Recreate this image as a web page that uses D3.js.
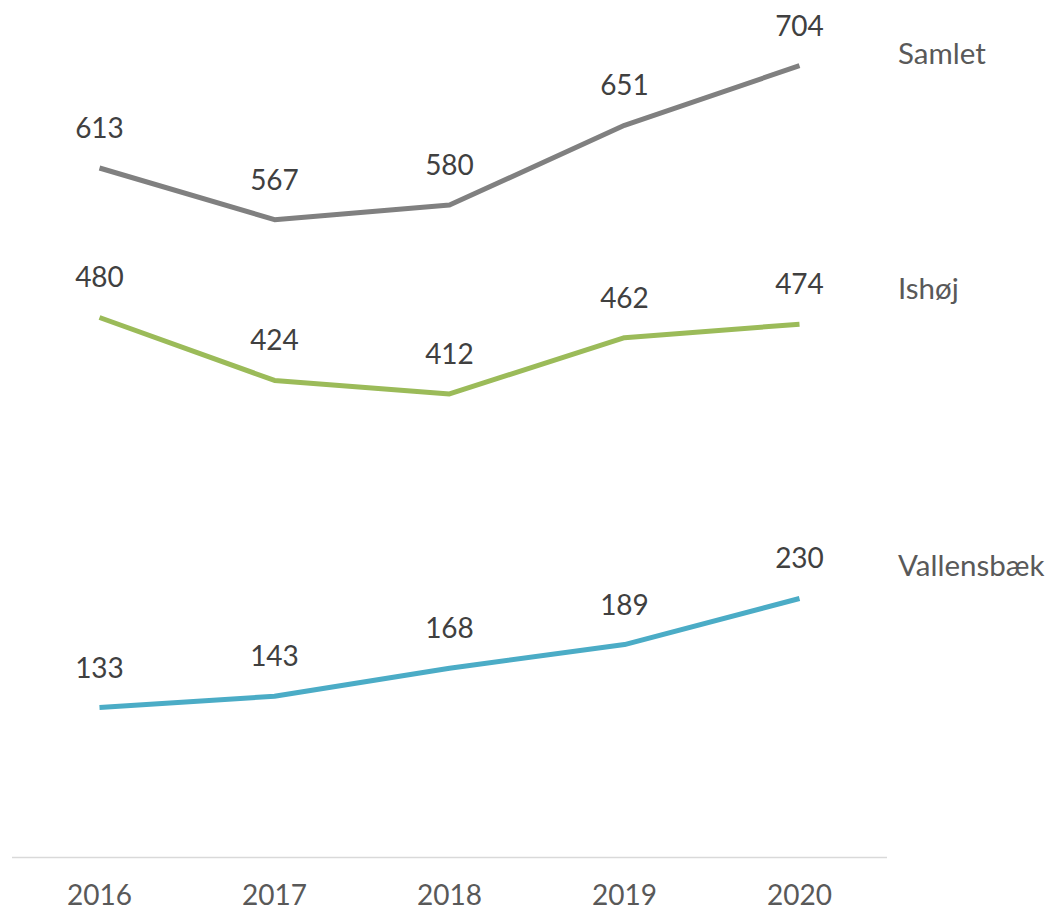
<!DOCTYPE html>
<html><head><meta charset="utf-8">
<script src="https://cdn.jsdelivr.net/npm/d3@7"></script>
<style>body{margin:0;background:#fff}svg text{font-family:Lato,"Open Sans",sans-serif}</style>
</head><body><svg id="c" width="1052" height="911"></svg>
<script>
const years = ["2016","2017","2018","2019","2020"];
const samlet = [613,567,580,651,704];
const ishoj = [480,424,412,462,474];
const vallensbaek = [133,143,168,189,230];
const seriesNames = ["Samlet","Ishøj","Vallensbæk"];
const seriesValues = [samlet, ishoj, vallensbaek];
const colors = ["#808080","#9BBB59","#4BACC6"];
const nameOffsets = [-2, -25, -22];

const svg = d3.select("#c");
const x = d3.scaleBand().domain(years).range([12,887]);
const y = d3.scaleLinear().domain([0,800]).range([857,857-800*1.124]);
const cx = d => x(d) + x.bandwidth()/2;

// axis line
svg.append("line").attr("x1",12).attr("x2",887).attr("y1",857.5).attr("y2",857.5)
  .attr("stroke","#d9d9d9").attr("stroke-width",1.5);
const ax = svg.append("g").attr("transform","translate(0,857)")
  .call(d3.axisBottom(x).tickSize(0).tickPadding(28));
ax.select(".domain").remove();
ax.selectAll("text").attr("font-size",28).attr("fill","#595959")
  .attr("font-family","Lato").attr("dy","0.71em");

const line = d3.line().x((d,i)=>cx(years[i])).y(d=>y(d));
seriesValues.forEach((vals,si)=>{
  svg.append("path").datum(vals).attr("d",line).attr("fill","none")
    .attr("stroke",colors[si]).attr("stroke-width",5).attr("stroke-linejoin","round");
  svg.selectAll(null).data(vals).enter().append("text")
    .attr("x",(d,i)=>cx(years[i])).attr("y",d=>y(d)-30)
    .attr("text-anchor","middle").attr("font-size",28).attr("fill","#404040")
    .text(d=>d);
  svg.append("text").attr("x",898).attr("y",y(vals[vals.length-1])+nameOffsets[si])
    .attr("font-size",29.5).attr("fill","#595959").text(seriesNames[si]);
});
</script></body></html>
